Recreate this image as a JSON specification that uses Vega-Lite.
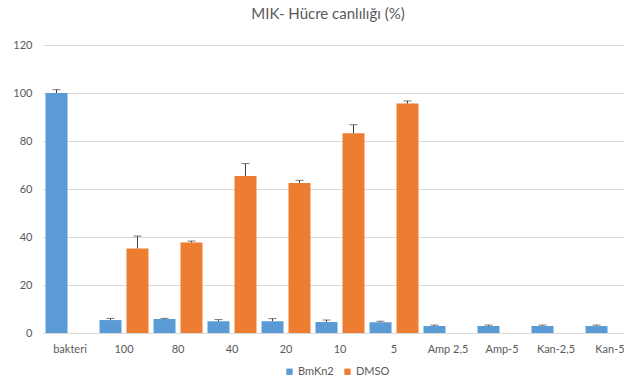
{
  "$schema": "https://vega.github.io/schema/vega-lite/v6.json",
  "width": 580,
  "height": 288,
  "autosize": "none",
  "padding": {"left": 44, "top": 45, "right": 0, "bottom": 49},
  "background": "white",
  "config": {
    "font": "Lato",
    "view": {"stroke": null}
  },
  "title": {
    "text": "MIK- Hücre canlılığı (%)",
    "anchor": "middle",
    "frame": "group",
    "dx": -6,
    "offset": 17,
    "fontSize": 15,
    "fontWeight": "normal",
    "color": "#595959",
    "font": "Lato"
  },
  "data": {
    "values": [
      {"cat": "bakteri", "series": "BmKn2", "value": 100, "err": 101.4},
      {"cat": "100", "series": "BmKn2", "value": 5.4, "err": 6.1},
      {"cat": "100", "series": "DMSO", "value": 35.2, "err": 40.4},
      {"cat": "80", "series": "BmKn2", "value": 5.8, "err": 6.1},
      {"cat": "80", "series": "DMSO", "value": 37.7, "err": 38.3},
      {"cat": "40", "series": "BmKn2", "value": 4.9, "err": 5.6},
      {"cat": "40", "series": "DMSO", "value": 65.4, "err": 70.6},
      {"cat": "20", "series": "BmKn2", "value": 4.9, "err": 6.0},
      {"cat": "20", "series": "DMSO", "value": 62.5, "err": 63.6},
      {"cat": "10", "series": "BmKn2", "value": 4.6, "err": 5.4},
      {"cat": "10", "series": "DMSO", "value": 83.2, "err": 86.8},
      {"cat": "5", "series": "BmKn2", "value": 4.5, "err": 4.9},
      {"cat": "5", "series": "DMSO", "value": 95.6, "err": 96.7},
      {"cat": "Amp 2,5", "series": "BmKn2", "value": 2.9, "err": 3.3},
      {"cat": "Amp-5", "series": "BmKn2", "value": 2.9, "err": 3.3},
      {"cat": "Kan-2,5", "series": "BmKn2", "value": 2.9, "err": 3.3},
      {"cat": "Kan-5", "series": "BmKn2", "value": 2.9, "err": 3.3}
    ]
  },
  "encoding": {
    "x": {
      "field": "cat",
      "type": "nominal",
      "scale": {
        "domain": ["bakteri", "100", "80", "40", "20", "10", "5", "Amp 2,5", "Amp-5", "Kan-2,5", "Kan-5"],
        "range": [-1, 593],
        "paddingInner": 0,
        "paddingOuter": 0
      },
      "axis": {
        "title": null,
        "labelAngle": 0,
        "ticks": false,
        "domainColor": "#d9d9d9",
        "labelColor": "#595959",
        "labelFontSize": 11,
        "labelPadding": 10,
        "labelFont": "Lato"
      }
    },
    "xOffset": {
      "field": "series",
      "type": "nominal",
      "scale": {"domain": ["BmKn2", "DMSO"], "paddingInner": 0.185, "paddingOuter": 0.093}
    }
  },
  "layer": [
    {
      "mark": {"type": "bar"},
      "encoding": {
        "y": {
          "field": "value",
          "type": "quantitative",
          "scale": {"domain": [0, 120], "nice": false},
          "axis": {
            "title": null,
            "values": [0, 20, 40, 60, 80, 100, 120],
            "ticks": false,
            "domain": false,
            "gridColor": "#d9d9d9",
            "labelColor": "#595959",
            "labelFontSize": 11,
            "labelPadding": 12,
            "labelFont": "Lato"
          }
        },
        "color": {
          "field": "series",
          "type": "nominal",
          "scale": {"domain": ["BmKn2", "DMSO"], "range": ["#5B9BD5", "#ED7D31"]},
          "legend": {
            "title": null,
            "orient": "none",
            "direction": "horizontal",
            "legendX": 240,
            "legendY": 321,
            "symbolType": "square",
            "symbolSize": 40,
            "symbolStrokeWidth": 0,
            "labelColor": "#595959",
            "labelFontSize": 11,
            "labelFont": "Lato",
            "columnPadding": 8,
            "labelOffset": 3
          }
        }
      }
    },
    {
      "mark": {"type": "rule", "color": "#404040", "strokeWidth": 1},
      "encoding": {
        "y": {"field": "value", "type": "quantitative"},
        "y2": {"field": "err"}
      }
    },
    {
      "mark": {"type": "tick", "color": "#404040", "thickness": 1, "size": 8},
      "encoding": {
        "y": {"field": "err", "type": "quantitative"}
      }
    }
  ]
}
